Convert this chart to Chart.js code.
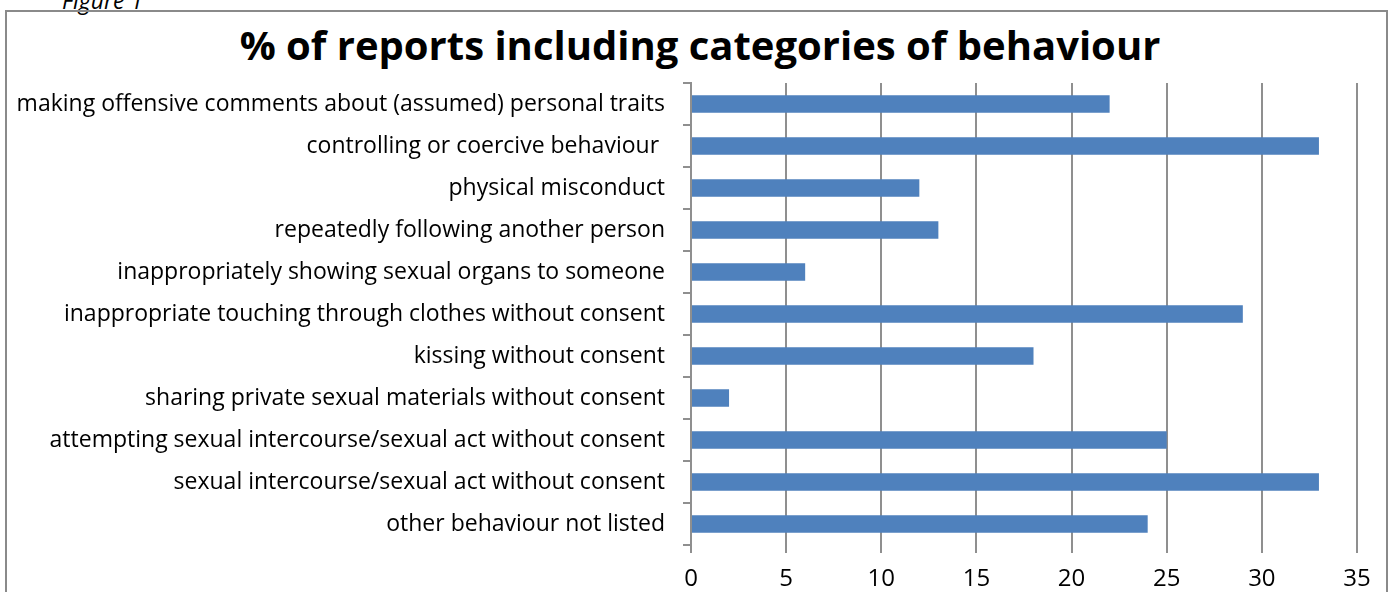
<!DOCTYPE html>
<html lang="en">
<head>
<meta charset="UTF-8">
<title>% of reports including categories of behaviour</title>
<script src="https://cdn.jsdelivr.net/npm/chart.js"></script>
<style>
    body {
        margin: 0;
        background: #ffffff;
        font-family: "Open Sans", Arial, sans-serif;
    }
    .page {
        position: relative;
        width: 1394px;
        height: 592px;
        overflow: hidden;
    }
    .caption {
        position: absolute;
        left: 62px;
        top: -16px;
        font-style: italic;
        font-size: 23px;
        color: #000;
    }
    .frame {
        position: absolute;
        left: 5px;
        top: 10px;
        width: 1379px;
        height: 700px;
        border: 2px solid #8a8a8a;
    }
    .title {
        position: absolute;
        left: 0;
        width: 1400px;
        top: 21px;
        text-align: center;
        font-size: 40px;
        line-height: 48px;
        font-weight: bold;
        color: #000;
    }
    #chart {
        position: absolute;
        left: 0;
        top: 0;
    }
</style>
</head>
<body>
<div class="page">
    <div class="caption">Figure 1</div>
    <div class="frame"></div>
    <div class="title">% of reports including categories of behaviour</div>
    <canvas id="chart" width="1394" height="592"></canvas>
</div>

<script>
    const behaviours = [
        "making offensive comments about (assumed) personal traits",
        "controlling or coercive behaviour ",
        "physical misconduct",
        "repeatedly following another person",
        "inappropriately showing sexual organs to someone",
        "inappropriate touching through clothes without consent",
        "kissing without consent",
        "sharing private sexual materials without consent",
        "attempting sexual intercourse/sexual act without consent",
        "sexual intercourse/sexual act without consent",
        "other behaviour not listed"
    ];
    const percentReports = [22, 33, 12, 13, 6, 29, 18, 2, 25, 33, 24];
    const xTicks = [0, 5, 10, 15, 20, 25, 30, 35];

    const axisGrey = '#8f8f8f';
    const fontFamily = '"Open Sans", Arial, sans-serif';

    new Chart(document.getElementById('chart'), {
        type: 'bar',
        data: {
            labels: behaviours,
            datasets: [{
                data: percentReports,
                backgroundColor: '#4f81bd',
                barPercentage: 0.42,
                categoryPercentage: 1.0
            }]
        },
        options: {
            indexAxis: 'y',
            responsive: false,
            animation: false,
            layout: { padding: { top: 83, right: 37, bottom: 0, left: 0 } },
            plugins: {
                legend: { display: false },
                tooltip: { enabled: false },
                title: { display: false }
            },
            scales: {
                x: {
                    min: 0,
                    max: 35,
                    afterBuildTicks: scale => {
                        scale.ticks = xTicks.map(v => ({ value: v }));
                    },
                    afterFit: scale => { scale.height = 47; },
                    grid: {
                        color: axisGrey,
                        lineWidth: 2,
                        drawTicks: true,
                        tickLength: 8,
                        tickColor: axisGrey
                    },
                    border: { display: false },
                    ticks: {
                        color: '#000',
                        padding: 12,
                        font: { family: fontFamily, size: 24 }
                    }
                },
                y: {
                    afterFit: scale => { scale.width = 691; },
                    grid: {
                        offset: true,
                        drawOnChartArea: false,
                        drawTicks: true,
                        tickLength: 8,
                        color: axisGrey,
                        lineWidth: 2
                    },
                    border: { display: true, color: axisGrey, width: 2 },
                    ticks: {
                        color: '#000',
                        padding: 18,
                        font: { family: fontFamily, size: 23 }
                    }
                }
            }
        }
    });
</script>
</body>
</html>
